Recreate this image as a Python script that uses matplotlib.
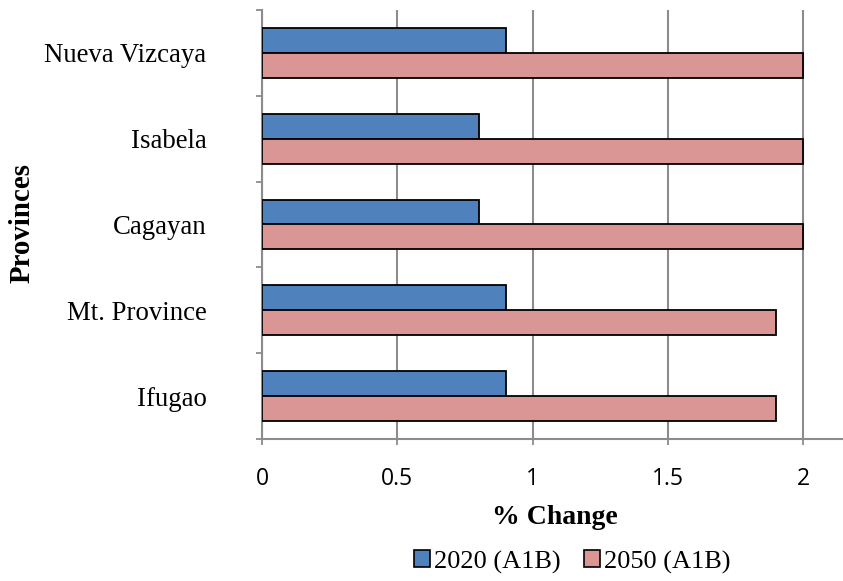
import matplotlib.pyplot as plt
import numpy as np
from matplotlib.patches import Patch

provinces = ["Ifugao", "Mt. Province", "Cagayan", "Isabela", "Nueva Vizcaya"]
change_2020 = [0.9, 0.9, 0.8, 0.8, 0.9]
change_2050 = [1.9, 1.9, 2.0, 2.0, 2.0]
series_names = ["2020 (A1B)", "2050 (A1B)"]
xticks = [0, 0.5, 1, 1.5, 2]

blue = "#4F81BD"
pink = "#D99694"
grey = "#8C8C8C"
serif = "Liberation Serif"

fig = plt.figure(figsize=(8.43, 5.81), dpi=100)
ax = fig.add_axes([0.3108, 0.2444, 0.70, 0.7384])

y = np.arange(len(provinces))
h = 0.29
ax.barh(y + h / 2, change_2020, height=h, color=blue, edgecolor="black", linewidth=1.3, zorder=3)
ax.barh(y - h / 2, change_2050, height=h, color=pink, edgecolor="black", linewidth=1.3, zorder=3)

ax.set_xlim(0, 2.18)
ax.set_ylim(-0.5, len(provinces) - 0.5)

ax.set_xticks(xticks)
ax.set_xticklabels(["0", "0.5", "1", "1.5", "2"], family="Open Sans", fontsize=16.5)
ax.tick_params(axis="x", length=4.5, width=1.3, color=grey, pad=16)
ax.grid(axis="x", color=grey, linewidth=1.5, zorder=0)

# category boundaries carry the ticks, names sit between them
ax.set_yticks(np.arange(-0.5, len(provinces), 1.0))
ax.set_yticklabels([])
ax.set_yticks(y, minor=True)
ax.set_yticklabels(provinces, minor=True, family=serif, fontsize=19.3)
ax.tick_params(axis="y", which="major", length=4.5, width=1.3, color=grey)
ax.tick_params(axis="y", which="minor", length=0, pad=40)

for side in ["top", "right"]:
    ax.spines[side].set_visible(False)
for side in ["left", "bottom"]:
    ax.spines[side].set_color(grey)
    ax.spines[side].set_linewidth(1.5)

fig.text(555 / 843, 1 - 517 / 581, "% Change", ha="center", va="center",
         family=serif, fontweight="bold", fontsize=20)
fig.text(22 / 843, 1 - 223 / 581, "Provinces", ha="center", va="center", rotation=90,
         family=serif, fontweight="bold", fontsize=20.8)

handles = [Patch(facecolor=blue, edgecolor="black", linewidth=1.2),
           Patch(facecolor=pink, edgecolor="black", linewidth=1.2)]
fig.legend(handles, series_names, loc="center", bbox_to_anchor=(572 / 843, 1 - 562 / 581),
           ncol=2, frameon=False, prop={"family": serif, "size": 19},
           handlelength=0.6, handleheight=0.6, handletextpad=0.15, columnspacing=0.9,
           borderpad=0, borderaxespad=0)

fig.savefig("out.png", dpi=100)
